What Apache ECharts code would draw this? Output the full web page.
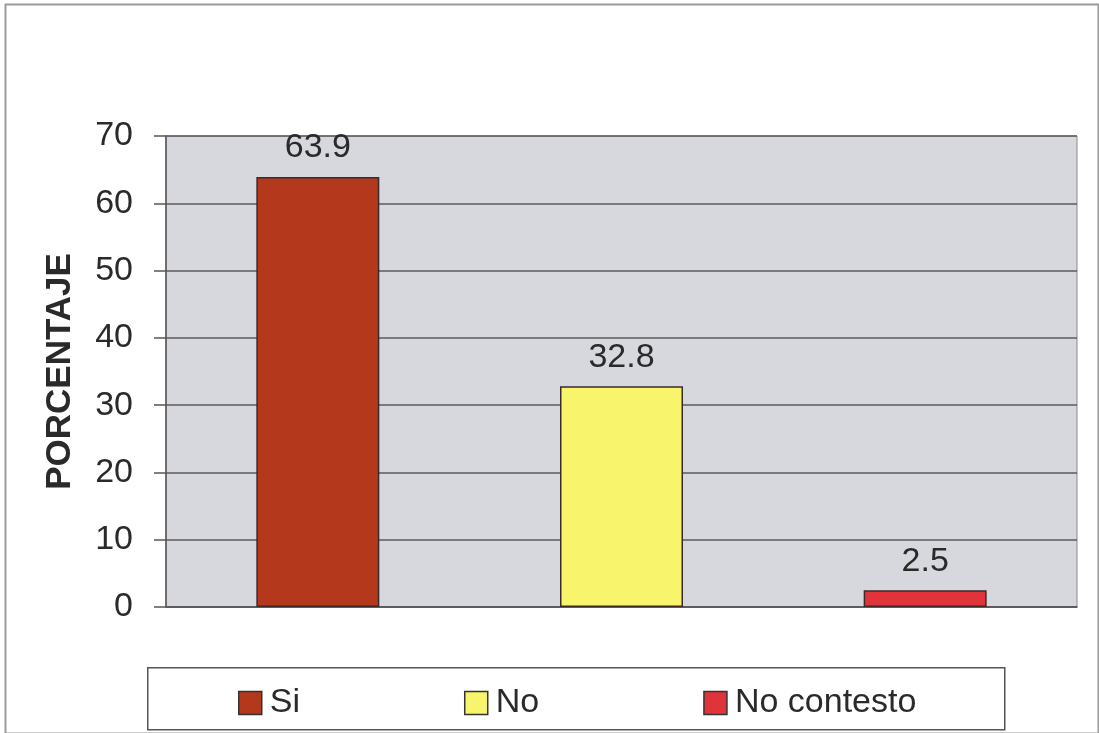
<!DOCTYPE html>
<html>
<head>
<meta charset="utf-8">
<script src="https://cdn.jsdelivr.net/npm/echarts@6/dist/echarts.min.js"></script>
<style>
  html, body { margin: 0; padding: 0; background: #fff; }
  #chart { width: 1099px; height: 733px; }
</style>
</head>
<body>
<div id="chart"></div>
<script>
// categorias y valores
const categories = ['Si', 'No', 'No contesto'];
const values = [63.9, 32.8, 2.5];
const barColors = ['#b4381c', '#f8f56c', '#e0343a'];
const yTicks = { min: 0, max: 70, interval: 10 };

const FONT = 'Liberation Sans, Arial, sans-serif';

let chart = echarts.init(document.getElementById('chart'));

// una serie por categoria para que cada una salga en la leyenda
let series = categories.map((name, i) => {
  let data = categories.map((c, j) => (j === i ? values[i] : null));
  return {
    name: name,
    type: 'bar',
    stack: 'total',
    barWidth: 123,
    data: data,
    itemStyle: {
      color: barColors[i],
      borderColor: '#3a2a2a',
      borderWidth: 1.5
    },
    label: {
      show: true,
      position: 'top',
      distance: 12,
      fontFamily: FONT,
      fontSize: 34,
      color: '#2a2a2a',
      formatter: (p) => p.value == null ? '' : p.value.toFixed(1)
    }
  };
});

let options = {
  backgroundColor: '#ffffff',
  animation: false,
  grid: {
    left: 166,
    right: 22,
    top: 136,
    bottom: 126,
    show: true,
    backgroundColor: '#d7d8dd',
    borderColor: '#8a8a8a',
    borderWidth: 1
  },
  xAxis: {
    type: 'category',
    data: categories,
    axisLine: { show: true, lineStyle: { color: '#555', width: 1.5 } },
    axisTick: { show: false },
    axisLabel: { show: false }
  },
  yAxis: {
    type: 'value',
    min: yTicks.min,
    max: yTicks.max,
    interval: yTicks.interval,
    name: 'PORCENTAJE',
    nameLocation: 'middle',
    nameGap: 88,
    nameTextStyle: {
      fontFamily: FONT,
      fontSize: 35,
      fontWeight: 'bold',
      color: '#2a2a2a'
    },
    axisLine: { show: true, lineStyle: { color: '#555', width: 1.5 } },
    axisTick: { show: true, length: 12, lineStyle: { color: '#555', width: 1.5 } },
    axisLabel: {
      margin: 33,
      fontFamily: FONT,
      fontSize: 34,
      color: '#2a2a2a'
    },
    splitLine: { show: true, lineStyle: { color: '#5a5a5e', width: 1.5 } }
  },
  legend: {
    data: categories,
    left: 233,
    top: 681,
    itemWidth: 23,
    itemHeight: 23,
    itemGap: 164,
    icon: 'rect',
    itemStyle: { borderColor: '#333', borderWidth: 1.5 },
    textStyle: {
      fontFamily: FONT,
      fontSize: 34,
      color: '#2a2a2a',
      padding: [0, 0, 0, 3]
    }
  },
  graphic: [
    {
      type: 'rect',
      left: 3,
      top: 2,
      shape: { width: 1093, height: 729 },
      style: { fill: 'none', stroke: '#9a9a9a', lineWidth: 2 },
      z: -2
    },
    {
      type: 'rect',
      left: 147,
      top: 667,
      shape: { width: 857, height: 62 },
      style: { fill: '#fff', stroke: '#555', lineWidth: 1.5 },
      z: -1
    }
  ],
  series: series
};

chart.setOption(options);
</script>
</body>
</html>
